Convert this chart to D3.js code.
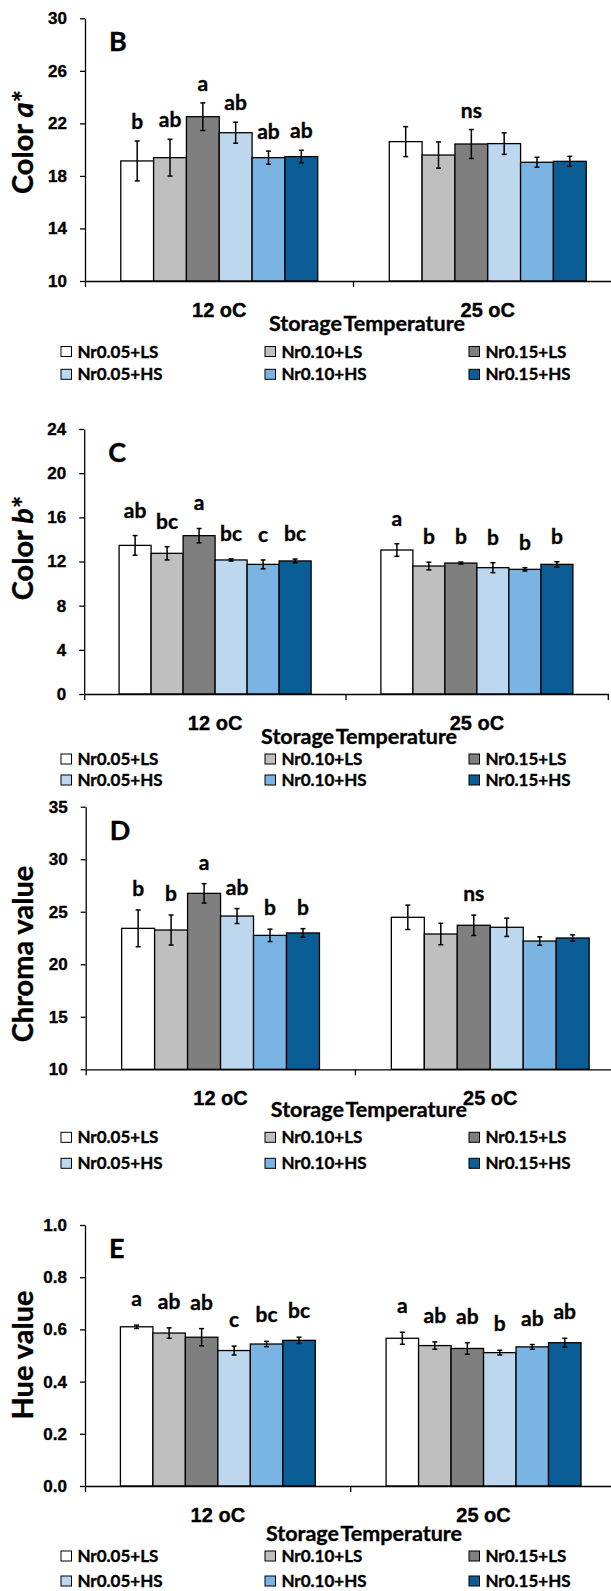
<!DOCTYPE html>
<html>
<head>
<meta charset="utf-8">
<script src="https://cdn.jsdelivr.net/npm/d3@7"></script>
<style>
  html, body { margin: 0; padding: 0; background: #fff; }
  svg { display: block; font-family: Lato, "Open Sans", sans-serif; font-weight: 700; }
  svg text { stroke: #000; stroke-width: 0.35px; paint-order: stroke; }
</style>
</head>
<body>
<svg id="fig" width="611" height="1591"></svg>
<script>
// ---- data -------------------------------------------------------------
const temperatures = ["12 oC", "25 oC"];
const treatments = ["Nr0.05+LS", "Nr0.10+LS", "Nr0.15+LS", "Nr0.05+HS", "Nr0.10+HS", "Nr0.15+HS"];
const treatmentColors = ["#FFFFFF", "#BFBFBF", "#7F7F7F", "#BDD7EE", "#7AB4E3", "#0B5D96"];

// Colour a*
const aMean12 = [19.14, 19.39, 22.51, 21.29, 19.39, 19.47];
const aErr12  = [1.52, 1.40, 1.05, 0.80, 0.50, 0.48];
const aMean25 = [20.61, 19.59, 20.43, 20.46, 19.04, 19.11];
const aErr25  = [1.14, 1.00, 1.10, 0.82, 0.38, 0.38];
const aLetters12 = ["b", "ab", "a", "ab", "ab", "ab"];
const aLetters25 = ["", "", "ns", "", "", ""];
const aTicks = [10, 14, 18, 22, 26, 30];

// Colour b*
const bMean12 = [13.46, 12.74, 14.34, 12.14, 11.74, 12.05];
const bErr12  = [0.89, 0.60, 0.65, 0.10, 0.40, 0.17];
const bMean25 = [13.04, 11.59, 11.86, 11.44, 11.29, 11.74];
const bErr25  = [0.57, 0.35, 0.09, 0.45, 0.15, 0.24];
const bLetters12 = ["ab", "bc", "a", "bc", "c", "bc"];
const bLetters25 = ["a", "b", "b", "b", "b", "b"];
const bTicks = [0, 4, 8, 12, 16, 20, 24];

// Chroma
const chromaMean12 = [23.42, 23.26, 26.75, 24.59, 22.75, 22.98];
const chromaErr12  = [1.75, 1.43, 0.92, 0.71, 0.59, 0.41];
const chromaMean25 = [24.47, 22.88, 23.71, 23.52, 22.21, 22.50];
const chromaErr25  = [1.16, 1.02, 0.97, 0.87, 0.40, 0.30];
const chromaLetters12 = ["b", "b", "a", "ab", "b", "b"];
const chromaLetters25 = ["", "", "ns", "", "", ""];
const chromaTicks = [10, 15, 20, 25, 30, 35];

// Hue
const hueMean12 = [0.610, 0.586, 0.570, 0.519, 0.544, 0.558];
const hueErr12  = [0.0064, 0.020, 0.033, 0.017, 0.010, 0.012];
const hueMean25 = [0.566, 0.538, 0.527, 0.511, 0.533, 0.549];
const hueErr25  = [0.023, 0.014, 0.022, 0.009, 0.009, 0.017];
const hueLetters12 = ["a", "ab", "ab", "c", "bc", "bc"];
const hueLetters25 = ["a", "ab", "ab", "b", "ab", "ab"];
const hueTicks = [0.0, 0.2, 0.4, 0.6, 0.8, 1.0];

const axisTitle = "Storage Temperature";

// ---- panel definitions ------------------------------------------------
const panels = [
  { letter: "B", title: [["Color ", false], ["a", true], ["*", false]],
    means: [aMean12, aMean25], errs: [aErr12, aErr25], letters: [aLetters12, aLetters25],
    ticks: aTicks, fmt: d3.format("d"),
    x0: 85, band: 268.5, yTop: 18.3, yBot: 281, titleY: 142, stDy: 50, leg1: 70.5, leg2: 93.3, gap: 12 },
  { letter: "C", title: [["Color ", false], ["b", true], ["*", false]],
    means: [bMean12, bMean25], errs: [bErr12, bErr25], letters: [bLetters12, bLetters25],
    ticks: bTicks, fmt: d3.format("d"),
    x0: 84.2, band: 261.8, yTop: 429, yBot: 694, titleY: 548, stDy: 49.5, leg1: 65, leg2: 86, gap: 18 },
  { letter: "D", title: [["Chroma value", false]],
    means: [chromaMean12, chromaMean25], errs: [chromaErr12, chromaErr25], letters: [chromaLetters12, chromaLetters25],
    ticks: chromaTicks, fmt: d3.format("d"),
    x0: 85.7, band: 269.7, yTop: 806.7, yBot: 1069.3, titleY: 954, stDy: 47.5, leg1: 68, leg2: 94, gap: 14 },
  { letter: "E", title: [["Hue value", false]],
    means: [hueMean12, hueMean25], errs: [hueErr12, hueErr25], letters: [hueLetters12, hueLetters25],
    ticks: hueTicks, fmt: d3.format(".1f"),
    x0: 85, band: 265.7, yTop: 1225, yBot: 1486, titleY: 1355, stDy: 54.7, leg1: 70, leg2: 95, gap: 19 }
];

const svg = d3.select("#fig");
const ink = "#000";

function drawPanel(p) {
  const g = svg.append("g");

  const x = d3.scaleBand().domain(temperatures)
    .range([p.x0, p.x0 + 2 * p.band]).paddingInner(0).paddingOuter(0);
  const xi = d3.scaleBand().domain(treatments)
    .range([0, x.bandwidth()]).paddingInner(0).paddingOuter(1.09);
  const y = d3.scaleLinear().domain(d3.extent(p.ticks)).range([p.yBot, p.yTop]);

  // bars, error bars and significance letters
  temperatures.forEach((t, ti) => {
    const rows = treatments.map((name, i) => ({
      name, color: treatmentColors[i],
      mean: p.means[ti][i], err: p.errs[ti][i], letter: p.letters[ti][i]
    }));
    const grp = g.append("g").attr("transform", `translate(${x(t)},0)`);

    grp.selectAll("rect").data(rows).join("rect")
      .attr("x", d => xi(d.name))
      .attr("y", d => y(d.mean))
      .attr("width", xi.bandwidth())
      .attr("height", d => y(p.ticks[0]) - y(d.mean))
      .attr("fill", d => d.color)
      .attr("stroke", ink).attr("stroke-width", 1.3);

    const eb = grp.selectAll("g.err").data(rows).join("g").attr("class", "err")
      .attr("stroke", ink).attr("stroke-width", 1.5);
    const cx = d => xi(d.name) + xi.bandwidth() / 2;
    eb.append("line")
      .attr("x1", cx).attr("x2", cx)
      .attr("y1", d => y(d.mean - d.err)).attr("y2", d => y(d.mean + d.err));
    eb.append("line")
      .attr("x1", d => cx(d) - 2.5).attr("x2", d => cx(d) + 2.5)
      .attr("y1", d => y(d.mean - d.err)).attr("y2", d => y(d.mean - d.err));
    eb.append("line")
      .attr("x1", d => cx(d) - 2.5).attr("x2", d => cx(d) + 2.5)
      .attr("y1", d => y(d.mean + d.err)).attr("y2", d => y(d.mean + d.err));

    grp.selectAll("text.sig").data(rows.filter(d => d.letter)).join("text")
      .attr("class", "sig")
      .attr("x", cx)
      .attr("y", d => y(d.mean + d.err) - p.gap)
      .attr("text-anchor", "middle")
      .attr("font-size", 21)
      .attr("fill", ink)
      .text(d => d.letter);
  });

  // y axis
  const yAxis = d3.axisLeft(y).tickValues(p.ticks).tickFormat(p.fmt)
    .tickSizeInner(5).tickSizeOuter(0).tickPadding(13);
  const ya = g.append("g").attr("transform", `translate(${p.x0},0)`).call(yAxis);
  ya.select(".domain").attr("stroke", ink).attr("stroke-width", 1.3);
  ya.selectAll(".tick line").attr("stroke", ink).attr("stroke-width", 1.3);
  ya.selectAll(".tick text").attr("font-size", 17).attr("font-family", null).attr("fill", ink);

  // x axis: category labels at band centres, ticks at band boundaries
  const xAxis = d3.axisBottom(x).tickSizeInner(0).tickSizeOuter(6).tickPadding(0);
  const xa = g.append("g").attr("transform", `translate(0,${p.yBot})`).call(xAxis);
  xa.select(".domain").attr("stroke", ink).attr("stroke-width", 1.3);
  xa.selectAll(".tick text").attr("y", 36).attr("dy", 0)
    .attr("font-size", 20).attr("font-family", null).attr("fill", ink);
  xa.append("line")
    .attr("x1", x(temperatures[1])).attr("x2", x(temperatures[1]))
    .attr("y1", 0).attr("y2", 6)
    .attr("stroke", ink).attr("stroke-width", 1.3);

  g.append("text")
    .attr("x", p.x0 + p.band * 1.05)
    .attr("y", p.yBot + p.stDy)
    .attr("text-anchor", "middle")
    .attr("font-size", 21.5)
    .attr("word-spacing", -3)
    .attr("fill", ink)
    .text(axisTitle);

  // y title
  const yt = g.append("text")
    .attr("transform", `translate(33,${p.titleY}) rotate(-90)`)
    .attr("text-anchor", "middle")
    .attr("font-size", 29)
    .attr("fill", ink);
  p.title.forEach(([s, it]) => yt.append("tspan").attr("font-style", it ? "italic" : null).text(s));

  // panel letter
  g.append("text")
    .attr("x", p.x0 + 24)
    .attr("y", p.yTop + 33)
    .attr("font-size", 27)
    .attr("fill", ink)
    .text(p.letter);

  // legend (3 columns x 2 rows)
  const colX = [61, 265, 469];
  const rowY = [p.yBot + p.leg1, p.yBot + p.leg2];
  const leg = g.append("g");
  treatments.forEach((name, i) => {
    const cx = colX[i % 3], cy = rowY[Math.floor(i / 3)];
    leg.append("rect")
      .attr("x", cx).attr("y", cy - 5)
      .attr("width", 10.5).attr("height", 10)
      .attr("fill", treatmentColors[i])
      .attr("stroke", ink).attr("stroke-width", 1);
    leg.append("text")
      .attr("x", cx + 16.4).attr("y", cy + 6)
      .attr("font-size", 17)
      .attr("fill", ink)
      .text(name);
  });
}

panels.forEach(drawPanel);
</script>
</body>
</html>
